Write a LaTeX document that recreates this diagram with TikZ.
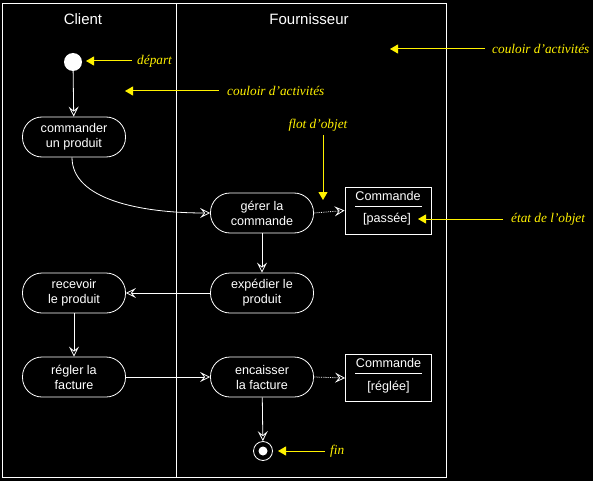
\documentclass[tikz,border=0pt]{standalone}
\usepackage{fontspec}
\setmainfont{Liberation Sans}
\newfontfamily\yfont{Liberation Serif}
\usetikzlibrary{arrows.meta}
\begin{document}
\begin{tikzpicture}[x=1pt,y=-1pt,
  activity/.style={draw=white, line width=0.8pt, rounded corners=19.5pt, minimum width=103pt, minimum height=40pt, inner sep=0pt, text=white, align=center, font=\fontsize{12.6}{15}\selectfont},
  objbox/.style={draw=white, line width=0.8pt, minimum width=86pt, minimum height=47pt, inner sep=0pt},
  wtext/.style={text=white, inner sep=0pt, font=\fontsize{12.6}{15}\selectfont},
  title/.style={text=white, inner sep=0pt, font=\fontsize{15}{17}\selectfont},
  flow/.style={draw=white, line width=0.8pt, -{Stealth[open, length=10pt, width=10pt, inset=4pt]}},
  objflow/.style={draw=white, line width=0.8pt, densely dotted, -{Stealth[open, length=10pt, width=10pt, inset=4pt]}},
  note/.style={draw=yellow, line width=1pt, -{Triangle[length=8pt, width=9pt]}},
  ytext/.style={text=yellow, inner sep=0pt, anchor=west, font=\yfont\itshape\fontsize{13.3}{15}\selectfont}]
\fill[black] (0,0) rectangle (593,481);
\useasboundingbox (0,0) rectangle (593,481);

% swimlanes
\draw[white, line width=0.8pt] (2,3) rectangle (446,477);
\draw[white, line width=0.8pt] (176,3) -- (176,477);
\node[title] (client) at (83,19) {Client};
\node[title] (fourn) at (309,19) {Fournisseur};

% start / end
\fill[white] (73,62) circle (9);
\node[circle, minimum size=18pt, inner sep=0pt] (start) at (73,62) {};
\node[circle, draw=white, line width=0.8pt, minimum size=19pt, inner sep=0pt] (end) at (263,451) {};
\fill[white] (end.center) circle (4.5);

% activities
\node[activity] (cmd) at (74,137) {commander\\un produit};
\node[activity] (gerer) at (262,213) {gérer la\\commande};
\node[activity] (exped) at (262,293) {expédier le\\produit};
\node[activity] (recev) at (74,293) {recevoir\\le produit};
\node[activity] (regler) at (74,377) {régler la\\facture};
\node[activity] (encais) at (262,377) {encaisser\\la facture};

% object boxes
\node[objbox] (o1) at (388,210.5) {};
\node[wtext] (o1t) at (388,196) {Commande};
\node[wtext] (o1s) at (387,219) {[passée]};
\draw[white, line width=0.8pt] (355,206) -- (422,206);
\node[objbox] (o2) at (388.5,378) {};
\node[wtext] (o2t) at (388.5,363) {Commande};
\node[wtext] (o2s) at (388.5,387) {[réglée]};
\draw[white, line width=0.8pt] (355,373) -- (422,373);

% flows
\draw[flow] (start) -- (cmd);
\draw[flow] (cmd.south -| 72,0) .. controls +(0,42) and +(-70,0) .. (gerer.west);
\draw[objflow] (gerer.east) -- (o1.west);
\draw[flow] (gerer) -- (exped);
\draw[flow] (exped) -- (recev);
\draw[flow] (recev) -- (regler);
\draw[flow] (regler) -- (encais);
\draw[objflow] (encais.east) -- (o2.west);
\draw[flow] (encais) -- (end);

% annotations
\node[ytext] (tdep) at (137,61) {départ};
\coordinate (cdep) at (86,61);
\draw[note] (132,61) -- (cdep);
\node[ytext] (tcl) at (227,91) {couloir d’activités};
\coordinate (ccl) at (125,91);
\draw[note] (219,91) -- (ccl);
\node[ytext] (tcr) at (492,49) {couloir d’activités};
\coordinate (ccr) at (390,49);
\draw[note] (485,49) -- (ccr);
\node[ytext, anchor=center] (tflot) at (318,125) {flot d’objet};
\coordinate (cflot) at (323,200);
\draw[note] (323,135) -- (cflot);
\node[ytext] (tetat) at (511,219) {état de l’objet};
\coordinate (cetat) at (418,219);
\draw[note] (503,219) -- (cetat);
\node[ytext] (tfin) at (330,451) {fin};
\coordinate (cfin) at (278,451);
\draw[note] (325,451) -- (cfin);
\end{tikzpicture}
\end{document}
